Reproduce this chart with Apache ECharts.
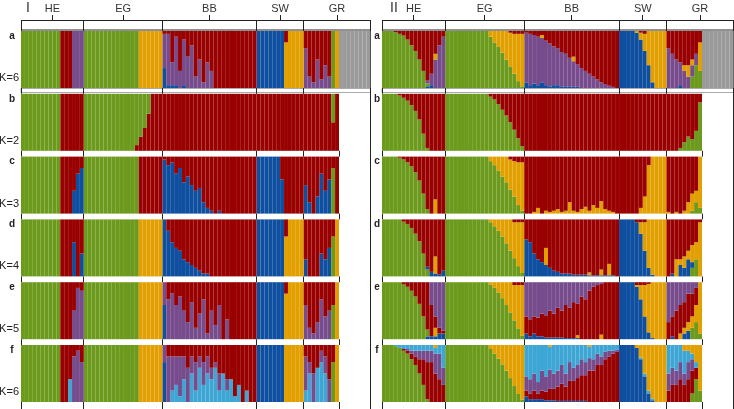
<!DOCTYPE html>
<html>
<head>
<meta charset="utf-8">
<script src="https://cdn.jsdelivr.net/npm/echarts/dist/echarts.min.js"></script>
<style>
  html, body { margin: 0; padding: 0; background: #fff; }
  #main { width: 734px; height: 409px; }
</style>
</head>
<body>
<div id="main"></div>
<script>
// groups of individuals (left to right), outgroup only shown in row a
var groups = ['HE', 'EG', 'BB', 'SW', 'GR'];
var groupSizes = [16, 20, 24, 12, 9];
var outgroupSize = 8;
var rowLetters = ['a', 'b', 'c', 'd', 'e', 'f'];
var kLabels = ['K=6', 'K=2', 'K=3', 'K=4', 'K=5', 'K=6'];

var colors = {
    green: '#6b9a1c',
    red: '#990000',
    purple: '#774c8c',
    orange: '#e29f00',
    blue: '#0f4f9f',
    gray: '#9a9a9a',
    lightblue: '#3ea6d4'
};

// ---------- panel I (ancestry in %, one value per individual) ----------
// row a, K=6
var Ia_blue = [
    0,0,0,0,0,0,0,0,0,0,0,0,0,0,0,0,
    0,0,0,0,0,0,0,0,0,0,0,0,0,0,0,0,0,0,0,0,
    35,5,5,5,0,5,0,0,0,0,0,0,0,0,0,0,0,0,0,0,0,0,0,0,
    100,100,100,100,100,100,100,0,0,0,0,0,
    0,0,0,0,0,0,0,0,0,
    0,0,0,0,0,0,0,0
];
var Ia_green = [
    100,100,100,100,100,100,100,100,100,100,0,0,0,0,0,0,
    100,100,100,100,100,100,100,100,100,100,100,100,100,100,0,0,0,0,0,0,
    0,0,0,0,0,0,0,0,0,0,0,0,0,0,0,0,0,0,0,0,0,0,0,0,
    0,0,0,0,0,0,0,0,0,0,0,0,
    0,0,0,0,0,0,0,100,0,
    0,0,0,0,0,0,0,0
];
var Ia_purple = [
    0,0,0,0,0,0,0,0,0,0,0,0,0,100,100,100,
    0,0,0,0,0,0,0,0,0,0,0,0,0,0,0,0,0,0,0,0,
    60,90,40,85,30,80,55,75,20,50,10,45,30,0,0,0,0,0,0,0,0,0,0,0,
    0,0,0,0,0,0,0,0,0,0,0,0,
    70,20,10,50,15,40,20,0,0,
    0,0,0,0,0,0,0,0
];
var Ia_orange = [
    0,0,0,0,0,0,0,0,0,0,0,0,0,0,0,0,
    0,0,0,0,0,0,0,0,0,0,0,0,0,0,100,100,100,100,100,100,
    0,0,0,0,0,0,0,0,0,0,0,0,0,0,0,0,0,0,0,0,0,0,0,0,
    0,0,0,0,0,0,0,80,100,100,100,100,
    0,0,0,0,0,0,0,0,100,
    0,0,0,0,0,0,0,0
];
var Ia_red = [
    0,0,0,0,0,0,0,0,0,0,100,100,100,0,0,0,
    0,0,0,0,0,0,0,0,0,0,0,0,0,0,0,0,0,0,0,0,
    5,5,55,10,70,15,45,25,80,50,90,55,70,100,100,100,100,100,100,100,100,100,100,100,
    0,0,0,0,0,0,0,20,0,0,0,0,
    30,80,90,50,85,60,80,0,0,
    0,0,0,0,0,0,0,0
];
var Ia_gray = [
    0,0,0,0,0,0,0,0,0,0,0,0,0,0,0,0,
    0,0,0,0,0,0,0,0,0,0,0,0,0,0,0,0,0,0,0,0,
    0,0,0,0,0,0,0,0,0,0,0,0,0,0,0,0,0,0,0,0,0,0,0,0,
    0,0,0,0,0,0,0,0,0,0,0,0,
    0,0,0,0,0,0,0,0,0,
    100,100,100,100,100,100,100,100
];
// row b, K=2
var Ib_red = [
    0,0,0,0,0,0,0,0,0,0,100,100,100,100,100,100,
    0,0,0,0,0,0,0,0,0,0,0,0,0,10,25,40,65,100,100,100,
    100,100,100,100,100,100,100,100,100,100,100,100,100,100,100,100,100,100,100,100,100,100,100,100,
    100,100,100,100,100,100,100,100,100,100,100,100,
    100,100,100,100,100,100,100,50,100
];
var Ib_green = [
    100,100,100,100,100,100,100,100,100,100,0,0,0,0,0,0,
    100,100,100,100,100,100,100,100,100,100,100,100,100,90,75,60,35,0,0,0,
    0,0,0,0,0,0,0,0,0,0,0,0,0,0,0,0,0,0,0,0,0,0,0,0,
    0,0,0,0,0,0,0,0,0,0,0,0,
    0,0,0,0,0,0,0,50,0
];
// row c, K=3
var Ic_blue = [
    0,0,0,0,0,0,0,0,0,0,0,0,0,40,70,80,
    0,0,0,0,0,0,0,0,0,0,0,0,0,0,0,0,0,0,0,0,
    95,85,90,70,80,55,65,50,40,45,20,10,5,0,5,0,0,0,0,0,0,0,0,0,
    100,100,100,100,100,100,60,0,0,0,0,0,
    50,20,0,30,70,40,60,0,0
];
var Ic_green = [
    100,100,100,100,100,100,100,100,100,100,0,0,0,0,0,0,
    100,100,100,100,100,100,100,100,100,100,100,100,100,100,0,0,0,0,0,0,
    0,0,0,0,0,0,0,0,0,0,0,0,0,0,0,0,0,0,0,0,0,0,0,0,
    0,0,0,0,0,0,0,0,0,0,0,0,
    0,0,0,0,0,0,0,80,0
];
var Ic_red = [
    0,0,0,0,0,0,0,0,0,0,100,100,100,60,30,20,
    0,0,0,0,0,0,0,0,0,0,0,0,0,0,100,100,100,100,100,100,
    5,15,10,30,20,45,35,50,60,55,80,90,95,100,95,100,100,100,100,100,100,100,100,100,
    0,0,0,0,0,0,40,100,100,100,100,100,
    50,80,100,70,30,60,40,20,100
];
// row d, K=4
var Id_blue = [
    0,0,0,0,0,0,0,0,0,0,0,0,0,60,0,40,
    0,0,0,0,0,0,0,0,0,0,0,0,0,0,0,0,0,0,0,0,
    100,80,60,50,45,30,25,20,15,10,5,5,0,0,0,0,0,0,0,0,0,0,0,0,
    100,100,100,100,100,100,100,0,0,0,0,0,
    30,0,0,0,40,30,50,0,0
];
var Id_green = [
    100,100,100,100,100,100,100,100,100,100,0,0,0,0,0,0,
    100,100,100,100,100,100,100,100,100,100,100,100,100,100,0,0,0,0,0,0,
    0,0,0,0,0,0,0,0,0,0,0,0,0,0,0,0,0,0,0,0,0,0,0,0,
    0,0,0,0,0,0,0,0,0,0,0,0,
    0,0,0,0,0,0,0,70,0
];
var Id_orange = [
    0,0,0,0,0,0,0,0,0,0,0,0,0,0,0,0,
    0,0,0,0,0,0,0,0,0,0,0,0,0,0,100,100,100,100,100,100,
    0,0,0,0,0,0,0,0,0,0,0,0,0,0,0,0,0,0,0,0,0,0,0,0,
    0,0,0,0,0,0,0,70,100,100,100,100,
    0,0,0,0,0,0,0,0,100
];
var Id_red = [
    0,0,0,0,0,0,0,0,0,0,100,100,100,40,100,60,
    0,0,0,0,0,0,0,0,0,0,0,0,0,0,0,0,0,0,0,0,
    0,20,40,50,55,70,75,80,85,90,95,95,100,100,100,100,100,100,100,100,100,100,100,100,
    0,0,0,0,0,0,0,30,0,0,0,0,
    70,100,100,100,60,70,50,30,0
];
// row e, K=5
var Ie_blue = [
    0,0,0,0,0,0,0,0,0,0,0,0,0,0,0,0,
    0,0,0,0,0,0,0,0,0,0,0,0,0,0,0,0,0,0,0,0,
    60,0,0,0,0,0,0,0,0,0,0,0,0,0,0,0,0,0,0,0,0,0,0,0,
    100,100,100,100,100,100,100,0,0,0,0,0,
    0,0,0,0,0,0,0,0,0
];
var Ie_green = [
    100,100,100,100,100,100,100,100,100,100,0,0,0,0,0,0,
    100,100,100,100,100,100,100,100,100,100,100,100,100,100,0,0,0,0,0,0,
    0,0,0,0,0,0,0,0,0,0,0,0,0,0,0,0,0,0,0,0,0,0,0,0,
    0,0,0,0,0,0,0,0,0,0,0,0,
    0,0,0,0,0,0,0,60,0
];
var Ie_purple = [
    0,0,0,0,0,0,0,0,0,0,0,0,0,50,90,85,
    0,0,0,0,0,0,0,0,0,0,0,0,0,0,0,0,0,0,0,0,
    40,70,80,60,75,50,30,65,20,45,70,10,50,25,60,0,35,0,0,0,0,0,0,0,
    0,0,0,0,0,0,0,0,0,0,0,0,
    60,20,10,30,70,40,50,0,0
];
var Ie_orange = [
    0,0,0,0,0,0,0,0,0,0,0,0,0,0,0,0,
    0,0,0,0,0,0,0,0,0,0,0,0,0,0,100,100,100,100,100,100,
    0,0,0,0,0,0,0,0,0,0,0,0,0,0,0,0,0,0,0,0,0,0,0,0,
    0,0,0,0,0,0,0,80,100,100,100,100,
    0,0,0,0,0,0,0,0,100
];
var Ie_red = [
    0,0,0,0,0,0,0,0,0,0,100,100,100,50,10,15,
    0,0,0,0,0,0,0,0,0,0,0,0,0,0,0,0,0,0,0,0,
    0,30,20,40,25,50,70,35,80,55,30,90,50,75,40,100,65,100,100,100,100,100,100,100,
    0,0,0,0,0,0,0,20,0,0,0,0,
    40,80,90,70,30,60,50,40,0
];
// row f, K=6
var If_blue = [
    0,0,0,0,0,0,0,0,0,0,0,0,0,0,0,0,
    0,0,0,0,0,0,0,0,0,0,0,0,0,0,0,0,0,0,0,0,
    70,0,0,0,0,0,0,0,0,0,0,0,0,0,0,0,0,0,0,0,0,0,0,0,
    100,100,100,100,100,100,100,0,0,0,0,0,
    0,0,0,0,0,0,0,0,0
];
var If_green = [
    100,100,100,100,100,100,100,100,100,100,0,0,0,0,0,0,
    100,100,100,100,100,100,100,100,100,100,100,100,100,100,0,0,0,0,0,0,
    0,0,0,0,0,0,0,0,0,0,0,0,0,0,0,0,0,0,0,0,0,0,0,0,
    0,0,0,0,0,0,0,0,0,0,0,0,
    0,0,0,0,0,0,0,70,0
];
var If_lightblue = [
    0,0,0,0,0,0,0,0,0,0,0,0,40,0,0,0,
    0,0,0,0,0,0,0,0,0,0,0,0,0,0,0,0,0,0,0,0,
    0,0,20,30,10,40,0,50,20,60,30,50,40,60,20,50,20,40,10,30,0,20,0,0,
    0,0,0,0,0,0,0,0,0,0,0,0,
    20,50,0,60,70,50,0,0,0
];
var If_purple = [
    0,0,0,0,0,0,0,0,0,0,0,0,0,80,90,70,
    0,0,0,0,0,0,0,0,0,0,0,0,0,0,0,0,0,0,0,0,
    30,80,60,50,70,40,60,30,50,20,40,30,20,10,30,0,20,0,0,0,0,0,0,0,
    0,0,0,0,0,0,0,0,0,0,0,0,
    60,20,50,0,20,30,40,0,0
];
var If_orange = [
    0,0,0,0,0,0,0,0,0,0,0,0,0,0,0,0,
    0,0,0,0,0,0,0,0,0,0,0,0,0,0,100,100,100,100,100,100,
    0,0,0,0,0,0,0,0,0,0,0,0,0,0,0,0,0,0,0,0,0,0,0,0,
    0,0,0,0,0,0,0,100,100,100,100,100,
    0,0,0,0,0,0,0,0,100
];
var If_red = [
    0,0,0,0,0,0,0,0,0,0,100,100,60,20,10,30,
    0,0,0,0,0,0,0,0,0,0,0,0,0,0,0,0,0,0,0,0,
    0,20,20,20,20,20,40,20,30,20,30,20,40,30,50,50,60,60,90,70,100,80,100,100,
    0,0,0,0,0,0,0,0,0,0,0,0,
    20,30,50,40,10,20,60,30,0
];

// ---------- panel II ----------
// row a, K=6
var IIa_blue = [
    0,0,0,0,0,0,0,0,0,0,0,3,5,0,0,0,
    0,0,0,0,0,0,0,0,0,0,0,0,0,0,0,0,0,0,0,0,
    10,5,8,5,10,5,3,5,5,3,2,3,2,2,0,0,0,0,0,0,0,0,0,0,
    100,100,100,100,97,85,65,40,10,0,0,0,
    0,0,0,5,0,0,0,0,0,
    0,0,0,0,0,0,0,0
];
var IIa_green = [
    100,100,100,98,95,92,85,75,65,50,30,5,0,0,0,0,
    100,100,100,100,100,100,100,100,100,100,100,90,80,72,62,50,38,25,12,3,
    0,0,0,0,0,0,0,0,0,0,0,0,0,0,0,0,0,0,0,0,0,0,0,0,
    0,0,0,0,0,0,0,0,0,0,0,0,
    0,0,0,0,0,0,20,40,30,
    0,0,0,0,0,0,0,0
];
var IIa_purple = [
    0,0,0,0,0,0,0,0,0,0,0,5,20,50,75,90,
    0,0,0,0,0,0,0,0,0,0,0,0,0,0,0,0,0,0,0,0,
    87,90,85,85,78,78,75,68,65,60,58,50,45,40,35,30,25,20,15,10,7,4,2,0,
    0,0,0,0,0,0,0,0,0,0,0,0,
    70,60,50,40,30,20,20,20,0,
    0,0,0,0,0,0,0,0
];
var IIa_orange = [
    0,0,0,0,0,0,0,0,0,0,0,0,0,10,0,0,
    0,0,0,0,0,0,0,0,0,0,0,10,20,28,38,50,59,70,83,92,
    0,0,0,0,5,0,0,0,0,0,0,0,8,0,0,0,0,0,0,0,0,0,0,0,
    0,0,0,0,3,12,30,60,90,100,100,100,
    0,0,0,0,10,20,10,0,50,
    0,0,0,0,0,0,0,0
];
var IIa_red = [
    0,0,0,2,5,8,15,25,35,50,70,87,75,40,25,10,
    0,0,0,0,0,0,0,0,0,0,0,0,0,0,0,0,3,5,5,5,
    3,5,7,10,7,17,22,27,30,37,40,47,45,58,65,70,75,80,85,90,93,96,98,100,
    0,0,0,0,0,3,5,0,0,0,0,0,
    30,40,50,55,60,60,50,40,20,
    0,0,0,0,0,0,0,0
];
var IIa_gray = [
    0,0,0,0,0,0,0,0,0,0,0,0,0,0,0,0,
    0,0,0,0,0,0,0,0,0,0,0,0,0,0,0,0,0,0,0,0,
    0,0,0,0,0,0,0,0,0,0,0,0,0,0,0,0,0,0,0,0,0,0,0,0,
    0,0,0,0,0,0,0,0,0,0,0,0,
    0,0,0,0,0,0,0,0,0,
    100,100,100,100,100,100,100,100
];
// row b, K=2
var IIb_green = [
    100,100,100,100,97,93,88,80,70,55,30,5,0,0,0,0,
    100,100,100,100,100,100,100,100,100,100,100,95,90,82,72,62,50,37,22,8,
    0,0,0,0,0,0,0,0,0,0,0,0,0,0,0,0,0,0,0,0,0,0,0,0,
    0,0,0,0,0,0,0,0,0,0,0,0,
    0,0,0,5,15,25,20,35,85
];
var IIb_red = [
    0,0,0,0,3,7,12,20,30,45,70,95,100,100,100,100,
    0,0,0,0,0,0,0,0,0,0,0,5,10,18,28,38,50,63,78,92,
    100,100,100,100,100,100,100,100,100,100,100,100,100,100,100,100,100,100,100,100,100,100,100,100,
    100,100,100,100,100,100,100,100,100,100,100,100,
    100,100,100,95,85,75,80,65,15
];
// row c, K=3
var IIc_green = [
    100,100,100,100,98,95,90,83,73,58,35,8,0,0,0,0,
    100,100,100,100,100,100,100,100,100,100,100,92,85,75,65,55,42,30,15,5,
    0,0,0,0,0,0,0,0,0,0,0,0,0,0,0,0,0,0,0,0,0,0,0,0,
    0,0,0,0,0,0,0,0,0,0,0,0,
    0,0,0,0,0,0,5,20,10
];
var IIc_orange = [
    0,0,0,0,0,0,0,0,0,0,0,0,0,25,0,0,
    0,0,0,0,0,0,0,0,0,0,0,8,15,25,35,45,53,62,75,85,
    0,0,3,10,0,5,3,5,8,3,5,20,5,3,8,12,5,15,10,22,8,5,3,0,
    0,0,0,0,0,10,30,85,100,100,100,100,
    3,0,3,0,5,20,30,20,90
];
var IIc_red = [
    0,0,0,0,2,5,10,17,27,42,65,92,100,75,100,100,
    0,0,0,0,0,0,0,0,0,0,0,0,0,0,0,0,5,8,10,10,
    100,100,97,90,100,95,97,95,92,97,95,80,95,97,92,88,95,85,90,78,92,95,97,100,
    100,100,100,100,100,90,70,15,0,0,0,0,
    97,100,97,100,95,80,65,60,0
];
// row d, K=4
var IId_green = [
    100,100,100,100,100,96,92,85,75,62,40,12,0,0,0,0,
    100,100,100,100,100,100,100,100,100,100,100,95,88,80,70,58,45,32,18,6,
    0,0,0,0,0,0,0,0,0,0,0,0,0,0,0,0,0,0,0,0,0,0,0,0,
    0,0,0,0,0,0,0,0,0,0,0,0,
    0,0,0,0,0,0,15,30,0
];
var IId_blue = [
    0,0,0,0,0,0,0,0,0,0,0,5,8,5,3,10,
    0,0,0,0,0,0,0,0,0,0,0,0,0,0,0,0,0,0,0,0,
    65,60,40,30,25,20,15,10,8,5,5,5,3,3,3,3,2,2,2,2,2,2,2,0,
    100,100,100,100,95,75,45,15,3,0,0,0,
    0,5,0,20,15,30,10,0,0
];
var IId_orange = [
    0,0,0,0,0,0,0,0,0,0,0,0,0,30,0,0,
    0,0,0,0,0,0,0,0,0,0,0,5,12,20,30,42,55,63,77,89,
    0,0,0,0,0,30,0,0,0,0,0,0,0,0,0,0,5,0,0,10,0,20,0,0,
    0,0,0,0,0,20,50,85,97,100,100,100,
    0,0,30,10,20,15,30,30,95
];
var IId_red = [
    0,0,0,0,0,4,8,15,25,38,60,83,92,65,97,90,
    0,0,0,0,0,0,0,0,0,0,0,0,0,0,0,0,0,5,5,5,
    35,40,60,70,75,50,85,90,92,95,95,95,97,97,97,97,93,98,98,88,98,78,98,100,
    0,0,0,0,5,5,5,0,0,0,0,0,
    100,95,70,70,65,55,45,40,5
];
// row e, K=5
var IIe_blue = [
    0,0,0,0,0,0,0,0,0,0,0,5,5,5,10,10,
    0,0,0,0,0,0,0,0,0,0,0,0,0,0,0,0,0,0,0,0,
    10,5,10,5,5,3,3,3,3,3,2,2,2,2,0,0,0,0,0,0,0,0,0,0,
    100,100,100,100,92,70,40,12,2,0,0,0,
    0,5,0,0,10,15,0,0,0
];
var IIe_green = [
    100,100,100,100,100,96,92,85,75,62,40,12,0,0,0,0,
    100,100,100,100,100,100,100,100,100,100,100,96,90,82,72,60,47,33,19,6,
    0,0,0,0,0,0,0,0,0,0,0,0,0,0,0,0,0,0,0,0,0,0,0,0,
    0,0,0,0,0,0,0,0,0,0,0,0,
    0,0,0,0,0,0,20,30,10
];
var IIe_orange = [
    0,0,0,0,0,0,0,0,0,0,0,0,0,15,0,0,
    0,0,0,0,0,0,0,0,0,0,0,4,10,18,28,40,53,62,76,89,
    0,0,0,0,0,0,0,0,0,0,0,0,0,5,0,0,0,0,0,8,0,0,0,0,
    0,0,0,0,3,25,55,85,98,100,100,100,
    0,0,0,10,10,15,20,30,90
];
var IIe_red = [
    0,0,0,0,0,4,8,15,25,38,60,83,55,20,10,5,
    0,0,0,0,0,0,0,0,0,0,0,0,0,0,0,0,0,5,5,5,
    30,30,30,33,40,39,47,42,52,47,58,53,63,55,75,70,85,92,95,89,100,100,100,100,
    0,0,0,0,5,5,5,3,0,0,0,0,
    30,35,50,50,45,50,40,30,0
];
var IIe_purple = [
    0,0,0,0,0,0,0,0,0,0,0,0,40,60,80,85,
    0,0,0,0,0,0,0,0,0,0,0,0,0,0,0,0,0,0,0,0,
    60,65,60,62,55,58,50,55,45,50,40,45,35,38,25,30,15,8,5,3,0,0,0,0,
    0,0,0,0,0,0,0,0,0,0,0,0,
    70,60,50,40,35,20,20,10,0
];
// row f, K=6
var IIf_green = [
    100,100,100,98,95,90,85,75,65,50,30,5,0,0,0,0,
    100,100,100,100,100,100,100,100,100,100,100,93,85,76,66,55,42,28,14,4,
    0,0,0,0,0,0,0,0,0,0,0,0,0,0,0,0,0,0,0,0,0,0,0,0,
    0,0,0,0,0,0,0,0,0,0,0,0,
    0,0,0,0,0,0,15,40,20
];
var IIf_blue = [
    0,0,0,0,0,0,0,0,0,0,0,0,0,0,0,0,
    0,0,0,0,0,0,0,0,0,0,0,0,0,0,0,0,0,0,0,0,
    10,5,5,5,5,3,3,3,2,2,2,2,2,2,2,2,0,0,0,0,0,0,0,0,
    100,100,100,100,95,75,45,15,3,0,0,0,
    0,0,0,0,0,0,0,0,0
];
var IIf_red = [
    0,0,0,0,0,3,5,10,15,25,45,65,70,50,40,30,
    0,0,0,0,0,0,0,0,0,0,0,0,0,0,0,0,0,0,0,0,
    10,10,15,10,15,15,20,20,25,30,25,35,35,40,45,45,55,55,65,65,75,80,85,88,
    0,0,0,0,0,0,0,0,0,0,0,0,
    20,30,30,40,30,40,40,20,0
];
var IIf_purple = [
    0,0,0,0,0,0,3,5,10,15,15,20,20,35,45,30,
    0,0,0,0,0,0,0,0,0,0,0,0,0,0,0,0,0,0,0,0,
    25,25,30,20,35,27,34,27,28,33,23,33,23,23,28,23,22,20,20,15,13,10,5,4,
    0,0,0,0,0,0,0,0,0,0,0,0,
    30,30,25,30,20,30,20,0,0
];
var IIf_lightblue = [
    0,0,0,2,5,7,7,10,10,10,10,10,10,10,15,40,
    0,0,0,0,0,0,0,0,0,0,0,0,0,0,0,0,0,0,0,0,
    55,60,50,65,45,55,40,50,45,35,50,30,40,35,25,30,20,25,15,20,12,10,10,8,
    0,0,0,0,0,3,5,5,3,0,0,0,
    50,40,45,30,40,20,10,10,0
];
var IIf_orange = [
    0,0,0,0,0,0,0,0,0,0,0,0,0,5,0,0,
    0,0,0,0,0,0,0,0,0,0,0,7,15,24,34,45,58,72,86,96,
    0,0,0,0,0,0,3,0,0,0,0,0,0,0,0,0,3,0,0,0,0,0,0,0,
    0,0,0,0,5,22,50,80,94,100,100,100,
    0,0,0,0,10,10,15,30,80
];

// stacking order, bottom to top
var panelIRows = [
    [['blue', Ia_blue], ['green', Ia_green], ['purple', Ia_purple], ['orange', Ia_orange], ['red', Ia_red], ['gray', Ia_gray]],
    [['red', Ib_red], ['green', Ib_green]],
    [['blue', Ic_blue], ['green', Ic_green], ['red', Ic_red]],
    [['blue', Id_blue], ['green', Id_green], ['orange', Id_orange], ['red', Id_red]],
    [['blue', Ie_blue], ['green', Ie_green], ['purple', Ie_purple], ['orange', Ie_orange], ['red', Ie_red]],
    [['blue', If_blue], ['green', If_green], ['lightblue', If_lightblue], ['purple', If_purple], ['orange', If_orange], ['red', If_red]]
];
var panelIIRows = [
    [['blue', IIa_blue], ['green', IIa_green], ['purple', IIa_purple], ['orange', IIa_orange], ['red', IIa_red], ['gray', IIa_gray]],
    [['green', IIb_green], ['red', IIb_red]],
    [['green', IIc_green], ['orange', IIc_orange], ['red', IIc_red]],
    [['green', IId_green], ['blue', IId_blue], ['orange', IId_orange], ['red', IId_red]],
    [['blue', IIe_blue], ['green', IIe_green], ['orange', IIe_orange], ['red', IIe_red], ['purple', IIe_purple]],
    [['green', IIf_green], ['blue', IIf_blue], ['red', IIf_red], ['purple', IIf_purple], ['lightblue', IIf_lightblue], ['orange', IIf_orange]]
];

// individual ids
var individuals = [];
groups.forEach(function (g, gi) {
    for (var i = 1; i <= groupSizes[gi]; i++) individuals.push(g + i);
});
for (var i = 1; i <= outgroupSize; i++) individuals.push('OUT' + i);
var nMain = individuals.length - outgroupSize;

// quick check of the tables
var problems = [];
[panelIRows, panelIIRows].forEach(function (rows, pi) {
    rows.forEach(function (row, ri) {
        var n = ri === 0 ? individuals.length : nMain;
        row.forEach(function (s) {
            if (s[1].length !== n) problems.push('panel ' + pi + ' row ' + ri + ' ' + s[0] + ' len ' + s[1].length);
        });
        for (var k = 0; k < n; k++) {
            var sum = 0;
            row.forEach(function (s) { sum += s[1][k] || 0; });
            if (Math.abs(sum - 100) > 1) problems.push('panel ' + pi + ' row ' + ri + ' ind ' + k + ' sum ' + sum);
        }
    });
});
if (problems.length) throw new Error(problems.join('; '));

var rowTop0 = 31, rowStep = 62.8, rowH = 57;
var panels = [
    { left: 21, barW: 318 / 81, rows: panelIRows, title: 'I', titleX: 26, letterX: 12, showK: true },
    { left: 382, barW: 320 / 81, rows: panelIIRows, title: 'II', titleX: 390, letterX: 377, showK: false }
];

var grids = [], xAxes = [], yAxes = [], series = [], elements = [];
var font = 'Liberation Sans, Arial, sans-serif';

// white gaps around the rows where the divider lines show
var gaps = [[20, rowTop0]];
for (var r = 0; r < 5; r++) gaps.push([rowTop0 + r * rowStep + rowH, rowTop0 + (r + 1) * rowStep]);
gaps.push([rowTop0 + 5 * rowStep + rowH, 409]);

panels.forEach(function (p) {
    p.rows.forEach(function (row, ri) {
        var idx = grids.length;
        var n = row[0][1].length;
        grids.push({ left: p.left, top: rowTop0 + ri * rowStep, width: n * p.barW, height: rowH });
        xAxes.push({ type: 'category', gridIndex: idx, data: individuals.slice(0, n), show: false });
        yAxes.push({ type: 'value', gridIndex: idx, min: 0, max: 100, show: false });
        row.forEach(function (s) {
            series.push({
                type: 'bar',
                xAxisIndex: idx,
                yAxisIndex: idx,
                stack: 'st' + idx,
                barWidth: '100%',
                data: s[1],
                itemStyle: { color: colors[s[0]] },
                silent: true
            });
        });
    });

    // group boundaries
    var cum = [0];
    groupSizes.forEach(function (s, i) { cum.push(cum[i] + s); });
    var xb = cum.map(function (c) { return p.left + c * p.barW; });
    var outEnd = p.left + individuals.length * p.barW;
    var crisp = function (x) { return Math.floor(x) + 0.5; };
    var vline = function (x, y1, y2) {
        elements.push({ type: 'line', z: 1, shape: { x1: crisp(x), y1: y1, x2: crisp(x), y2: y2 },
            style: { stroke: '#222', lineWidth: 1 } });
    };

    // thin grey strip between rows a and b
    elements.push({ type: 'rect', z: 0, shape: { x: p.left, y: 88.5, width: outEnd - p.left, height: 4 },
        style: { fill: '#fff', stroke: '#aaa', lineWidth: 1 } });
    // header box
    elements.push({ type: 'rect', z: 1, shape: { x: crisp(p.left), y: 20.5, width: crisp(outEnd) - crisp(p.left), height: 9.5 },
        style: { fill: '#fff', stroke: '#222', lineWidth: 1 } });
    // dividers, only inside the white gaps
    gaps.forEach(function (gp, gi) {
        for (var k = 0; k < 5; k++) vline(xb[k], gp[0], gp[1]);
        if (gi >= 2) vline(xb[5], gp[0], gp[1]);
    });
    // panel frame on the right
    vline(outEnd, 20, 409);

    // group labels with ticks
    groups.forEach(function (g, gi) {
        var x0 = xb[gi], x1 = gi === groups.length - 1 ? outEnd : xb[gi + 1];
        var cx = (x0 + x1) / 2;
        elements.push({ type: 'text', z: 10, x: cx, y: 9,
            style: { text: g, font: '11px ' + font, fill: '#333', textAlign: 'center', textVerticalAlign: 'middle' } });
        vline(cx, 15, 20);
    });

    // panel numeral
    elements.push({ type: 'text', z: 10, x: p.titleX, y: 1,
        style: { text: p.title, font: '14px ' + font, fill: '#333', textAlign: 'left', textVerticalAlign: 'top' } });

    // row letters and K labels
    rowLetters.forEach(function (l, ri) {
        var top = rowTop0 + ri * rowStep;
        elements.push({ type: 'text', z: 10, x: p.letterX, y: top + 5,
            style: { text: l, font: 'bold 10px ' + font, fill: '#222', textAlign: 'center', textVerticalAlign: 'middle' } });
        if (p.showK) {
            elements.push({ type: 'text', z: 10, x: 19, y: top + 47,
                style: { text: kLabels[ri], font: '11px ' + font, fill: '#222', textAlign: 'right', textVerticalAlign: 'middle' } });
        }
    });
});

var chart = echarts.init(document.getElementById('main'));
chart.setOption({
    animation: false,
    grid: grids,
    xAxis: xAxes,
    yAxis: yAxes,
    series: series,
    graphic: { elements: elements }
});
</script>
</body>
</html>
